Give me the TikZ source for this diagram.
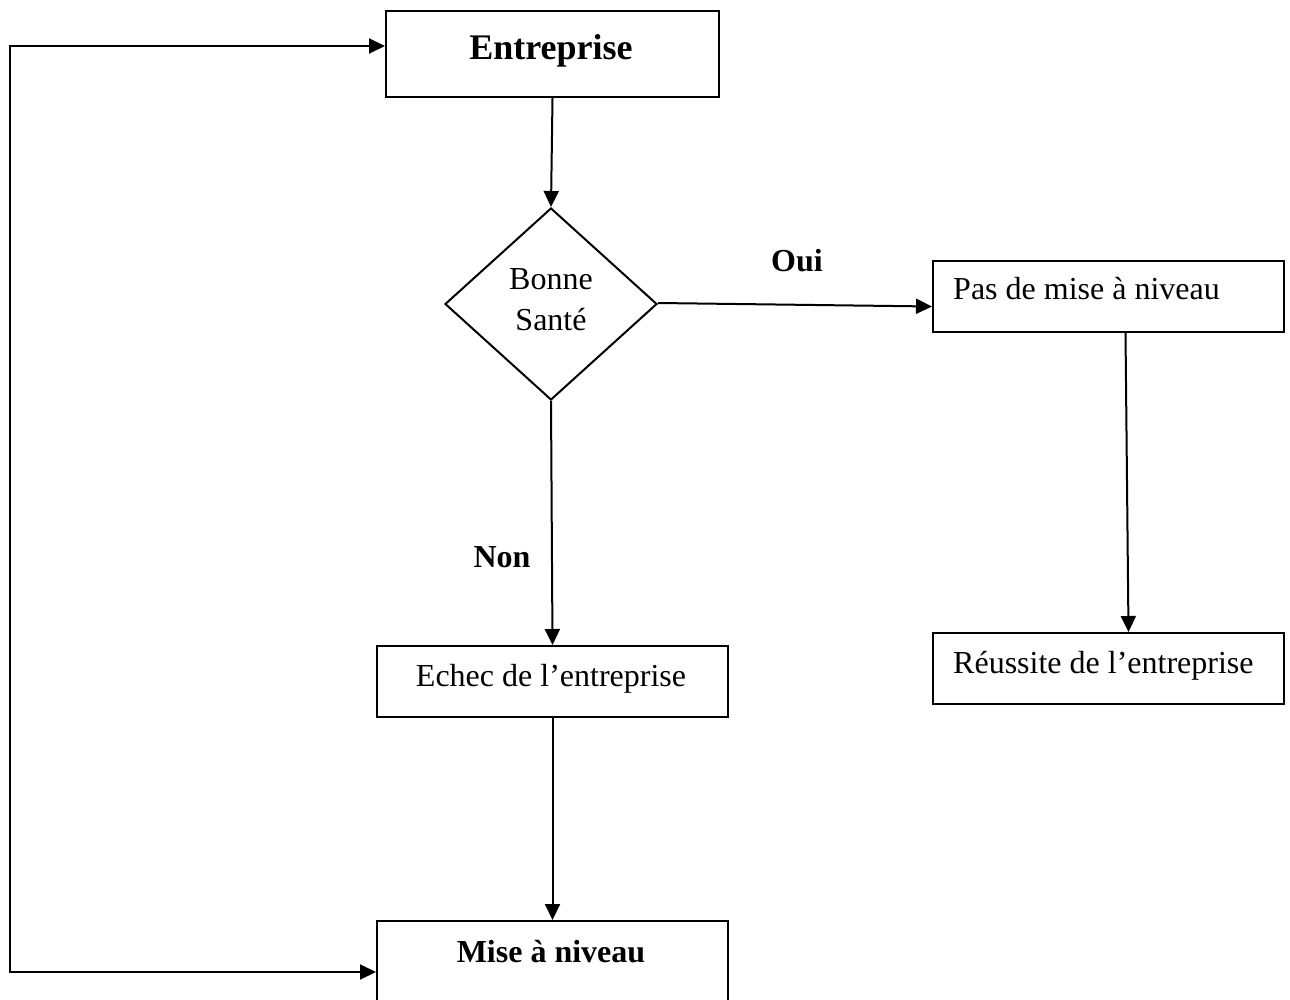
\documentclass[tikz,border=0pt]{standalone}
\usepackage{fontspec}
\setmainfont{Liberation Serif}
\usetikzlibrary{arrows.meta,shapes.geometric}
\begin{document}
\begin{tikzpicture}[x=1pt,y=-1pt,
  boxnode/.style={draw,line width=2pt,rectangle,inner sep=0pt,anchor=north west},
  tip/.tip={Triangle[length=16pt,width=15pt]},
  conn/.style={line width=2pt,-tip},
  txt/.style={font=\fontsize{32}{40}\selectfont,inner sep=0pt},
  btxt/.style={font=\fontsize{32}{40}\selectfont\bfseries,inner sep=0pt}]
\useasboundingbox (0,0) rectangle (1290,1000);
% boxes
\node[boxnode,minimum width=333pt,minimum height=86pt] (ent) at (385,10) {};
\node[draw,line width=2pt,diamond,minimum width=212pt,minimum height=192pt,inner sep=0pt] (dia) at (551,304) {};
\node[boxnode,minimum width=351pt,minimum height=71pt] (pas) at (932,260) {};
\node[boxnode,minimum width=351pt,minimum height=71pt] (reu) at (932,632) {};
\node[boxnode,minimum width=351pt,minimum height=71pt] (ech) at (376,645) {};
\node[boxnode,minimum width=351pt,minimum height=95pt] (mise) at (376,920) {};
% texts
\node[btxt,font=\fontsize{36}{40}\selectfont\bfseries,anchor=base] (tent) at (551,60) {Entreprise};
\node[txt,align=center,anchor=base] (tdia) at (551,330) {Bonne\\Santé};
\node[txt,anchor=base west] (tpas) at (953,300) {Pas de mise à niveau};
\node[txt,anchor=base west] (treu) at (953,673) {Réussite de l’entreprise};
\node[txt,anchor=base] (tech) at (551,686) {Echec de l’entreprise};
\node[btxt,anchor=base] (tmise) at (551,962) {Mise à niveau};
\node[btxt,anchor=base] (oui) at (797,272) {Oui};
\node[btxt,anchor=base] (non) at (502,567) {Non};
% connectors
\draw[conn] (ent.south) -- (dia.north);
\draw[conn] ([yshift=1pt]dia.east) -- ([yshift=-10pt]pas.west);
\draw[conn] ([xshift=17pt]pas.south) -- ([xshift=20pt]reu.north);
\draw[conn] (dia.south) -- (ech.north);
\draw[conn] (ech.south) -- (mise.north);
\coordinate (lb) at (10,972);
\coordinate (lt) at (10,46);
\draw[line width=2pt,tip-tip]
  (mise.west |- lb) -- (lb) -- (lt) -- (ent.west |- lt);
\end{tikzpicture}
\end{document}
